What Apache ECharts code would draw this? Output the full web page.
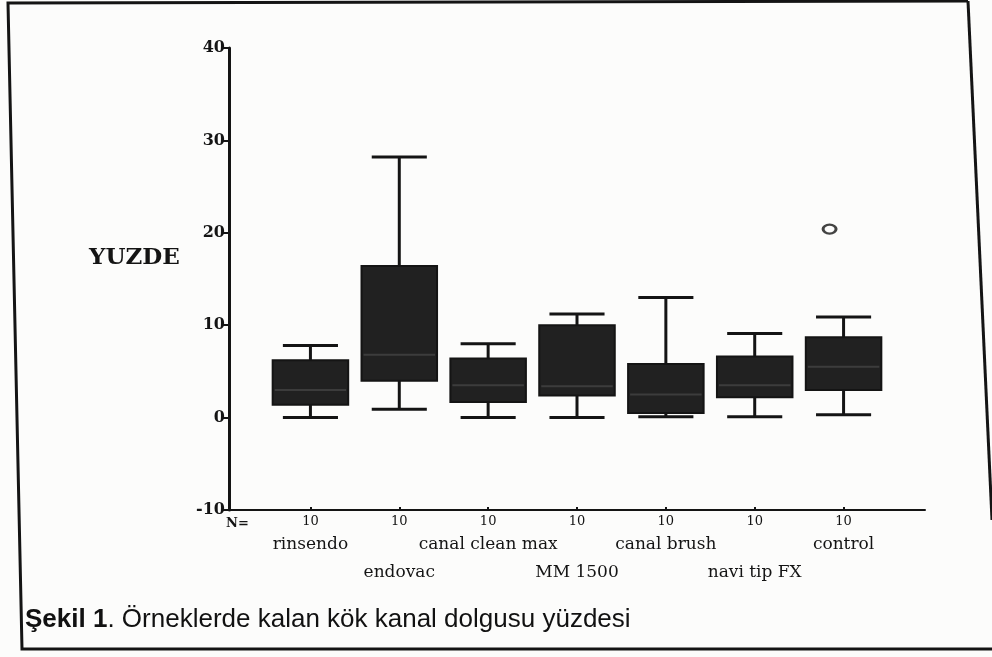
<!DOCTYPE html>
<html>
<head>
<meta charset="utf-8">
<script src="https://cdn.jsdelivr.net/npm/echarts@6/dist/echarts.min.js"></script>
<style>
  html, body { margin: 0; padding: 0; background: #fcfcfb; }
  #chart { width: 992px; height: 657px; }
</style>
</head>
<body>
<div id="chart"></div>
<script>
// groups and N per group
const categories = ['rinsendo', 'endovac', 'canal clean max', 'MM 1500', 'canal brush', 'navi tip FX', 'control'];
const nCounts = [10, 10, 10, 10, 10, 10, 10];
// box plot values (YUZDE)
const whiskerLow = [0, 0.9, 0, 0, 0.1, 0.1, 0.3];
const q1 = [1.4, 4.0, 1.7, 2.4, 0.5, 2.2, 3.0];
const median = [3.0, 6.8, 3.5, 3.4, 2.5, 3.5, 5.5];
const q3 = [6.2, 16.4, 6.4, 10.0, 5.8, 6.6, 8.7];
const whiskerHigh = [7.8, 28.2, 8.0, 11.2, 13.0, 9.1, 10.9];
const outliers = [['control', 20.4]];
const yTicks = [-10, 0, 10, 20, 30, 40];

const serif = '"DejaVu Serif", "Liberation Serif", serif';
const sans = 'Arial, "Liberation Sans", sans-serif';
const ink = '#141414';

let chart = echarts.init(document.getElementById('chart'));

function renderBox(params, api) {
  const i = api.value(0);
  const lo = api.coord([i, api.value(1)]);
  const b1 = api.coord([i, api.value(2)]);
  const md = api.coord([i, api.value(3)]);
  const b3 = api.coord([i, api.value(4)]);
  const hi = api.coord([i, api.value(5)]);
  const band = api.size([1, 0])[0];
  const bw = band * 0.85, cw = band * 0.62;
  const x = lo[0];
  const ln = { stroke: ink, lineWidth: 3 };
  return {
    type: 'group',
    children: [
      { type: 'line', shape: { x1: x, y1: hi[1], x2: x, y2: lo[1] }, style: ln },
      { type: 'line', shape: { x1: x - cw / 2, y1: hi[1], x2: x + cw / 2, y2: hi[1] }, style: ln },
      { type: 'line', shape: { x1: x - cw / 2, y1: lo[1], x2: x + cw / 2, y2: lo[1] }, style: ln },
      {
        type: 'rect',
        shape: { x: x - bw / 2, y: b3[1], width: bw, height: b1[1] - b3[1] },
        style: { fill: '#212121', stroke: ink, lineWidth: 2 }
      },
      // median is only faintly visible in the scan
      { type: 'line', shape: { x1: x - bw / 2 + 2, y1: md[1], x2: x + bw / 2 - 2, y2: md[1] }, style: { stroke: '#3c3c3c', lineWidth: 2 } }
    ]
  };
}

let option = {
  backgroundColor: '#fcfcfb',
  animation: false,
  title: [
    {
      text: 'YUZDE', left: 84, top: 242,
      textStyle: { fontFamily: serif, fontSize: 23, fontWeight: 'bold', color: ink }
    },
    {
      text: 'N=', left: 221, top: 512,
      textStyle: { fontFamily: serif, fontSize: 13, fontWeight: 'bold', color: ink }
    },
    {
      text: '{b|Şekil 1}{r|. Örneklerde kalan kök kanal dolgusu yüzdesi}', left: 20, top: 602,
      textStyle: {
        fontWeight: 'normal',
        rich: {
          b: { fontFamily: sans, fontSize: 26, fontWeight: 'bold', color: '#111' },
          r: { fontFamily: sans, fontSize: 26, fontWeight: 'normal', color: '#111' }
        }
      }
    }
  ],
  graphic: [
    {
      type: 'polyline', silent: true,
      shape: { points: [[968, 1], [8, 3], [22, 649], [992, 649]] },
      style: { stroke: ink, lineWidth: 3, fill: null }
    },
    {
      type: 'line', silent: true,
      shape: { x1: 968, y1: 1, x2: 992, y2: 520 },
      style: { stroke: ink, lineWidth: 3 }
    }
  ],
  grid: [
    { left: 266, right: 104, top: 48, bottom: 147 },
    { left: 229, right: 67, top: 48, bottom: 147 }
  ],
  xAxis: [
    {
      type: 'category', gridIndex: 0, data: categories,
      axisLine: { show: false, onZero: false },
      axisTick: { show: true, alignWithLabel: true, length: 3, inside: true, lineStyle: { color: ink, width: 2 } },
      axisLabel: {
        margin: 3, interval: 0,
        formatter: function (value, index) {
          const n = '{n|' + nCounts[index] + '}';
          return index % 2 === 0 ? n + '\n{c|' + value + '}' : n + '\n{c| }\n{c|' + value + '}';
        },
        rich: {
          n: { fontFamily: serif, fontSize: 13, lineHeight: 18, color: ink },
          c: { fontFamily: serif, fontSize: 17, lineHeight: 28, color: ink }
        }
      },
      splitLine: { show: false }
    },
    {
      type: 'value', gridIndex: 1, min: 0, max: 1,
      axisLine: { show: true, onZero: false, lineStyle: { color: ink, width: 2 } },
      axisTick: { show: false }, axisLabel: { show: false }, splitLine: { show: false }
    }
  ],
  yAxis: [
    {
      type: 'value', gridIndex: 0, min: yTicks[0], max: yTicks[yTicks.length - 1], interval: 10,
      offset: 37,
      axisLine: { show: true, lineStyle: { color: ink, width: 3 } },
      axisTick: { show: true, length: 7, lineStyle: { color: ink, width: 2 } },
      axisLabel: { margin: 4, fontFamily: serif, fontSize: 16, fontWeight: 'bold', color: ink },
      splitLine: { show: false }
    },
    { type: 'value', gridIndex: 1, show: false, min: 0, max: 1 }
  ],
  series: [
    {
      type: 'custom', xAxisIndex: 0, yAxisIndex: 0,
      renderItem: renderBox,
      encode: { x: 0, y: [1, 2, 3, 4, 5] },
      data: categories.map((c, i) => [i, whiskerLow[i], q1[i], median[i], q3[i], whiskerHigh[i]])
    },
    {
      type: 'scatter', xAxisIndex: 0, yAxisIndex: 0,
      symbol: 'circle', symbolSize: [13, 9], symbolOffset: [-14, 0],
      itemStyle: { color: 'rgba(0,0,0,0)', borderColor: ink, borderWidth: 2.5 },
      data: outliers
    }
  ]
};
chart.setOption(option);
</script>
</body>
</html>
